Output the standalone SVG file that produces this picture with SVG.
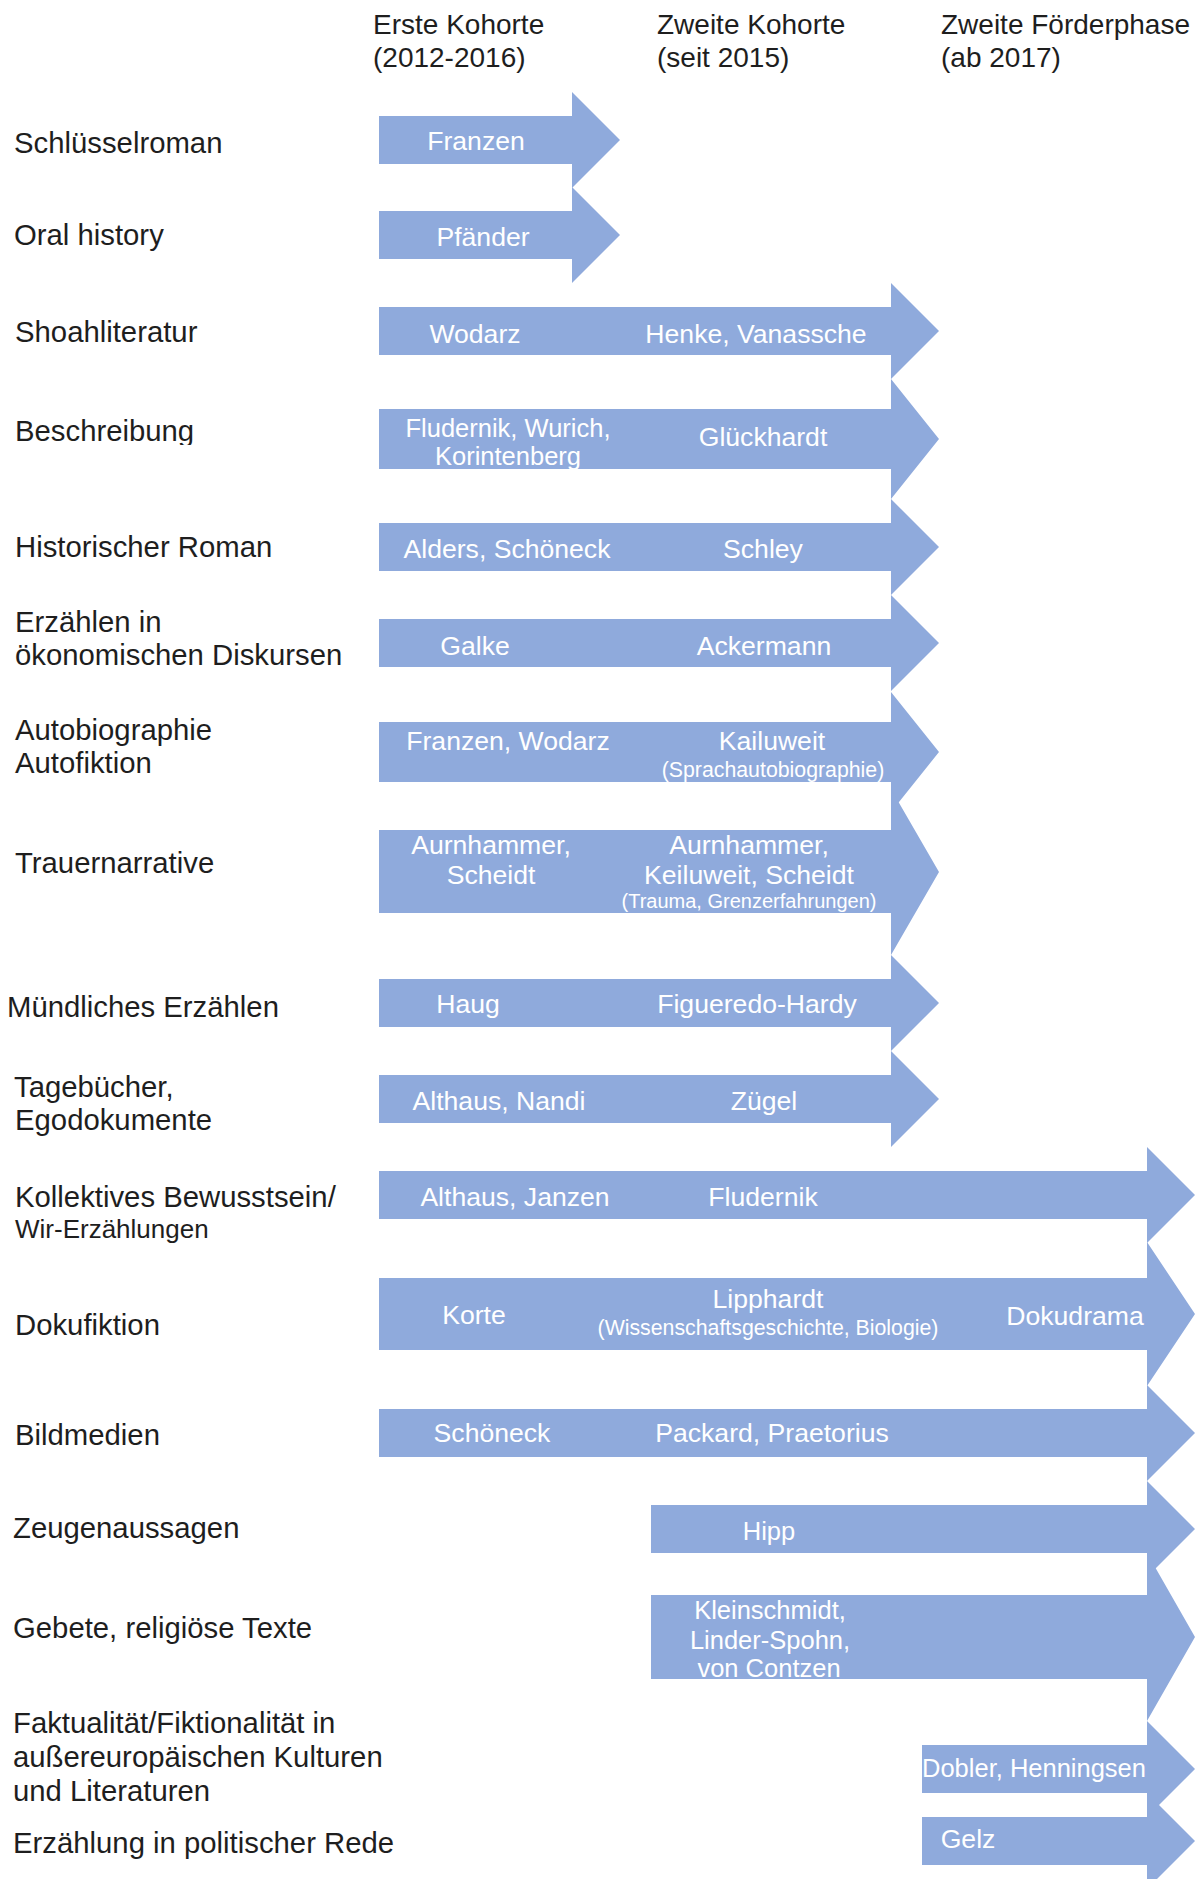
<svg xmlns="http://www.w3.org/2000/svg" width="1199" height="1879" viewBox="0 0 1199 1879">
<style>
  .arrow { fill: #8FAADC; }
  .hdr { font-family: "Liberation Sans", Arial, sans-serif; font-size: 28px; fill: #1e1e1e; }
  .lbl { font-family: "Liberation Sans", Arial, sans-serif; font-size: 29.3px; fill: #1e1e1e; }
  .lbl2 { font-family: "Liberation Sans", Arial, sans-serif; font-size: 26px; fill: #1e1e1e; }
  .t { font-family: "Liberation Sans", Arial, sans-serif; font-size: 26.6px; fill: #ffffff; text-anchor: middle; }
  .tn { font-family: "Liberation Sans", Arial, sans-serif; font-size: 25.5px; fill: #ffffff; text-anchor: middle; }
  .s { font-family: "Liberation Sans", Arial, sans-serif; font-size: 21.3px; fill: #ffffff; text-anchor: middle; }
  .s2 { font-family: "Liberation Sans", Arial, sans-serif; font-size: 20px; fill: #ffffff; text-anchor: middle; }
</style>
<defs>
  <clipPath id="clipBeschr"><rect x="0" y="380" width="370" height="65"/></clipPath>
</defs>
<rect x="0" y="0" width="1199" height="1879" fill="#ffffff"/>

<g id="header">
  <text class="hdr" x="373" y="34">Erste Kohorte</text>
  <text class="hdr" x="373" y="67">(2012-2016)</text>
  <text class="hdr" x="657" y="34">Zweite Kohorte</text>
  <text class="hdr" x="657" y="67">(seit 2015)</text>
  <text class="hdr" x="941" y="34">Zweite Förderphase</text>
  <text class="hdr" x="941" y="67">(ab 2017)</text>
</g>

<g id="row-schluesselroman">
  <text class="lbl" x="14" y="153">Schlüsselroman</text>
  <polygon class="arrow" points="379,116 572,116 572,92 620,140 572,188 572,164 379,164"/>
  <text class="t" x="476" y="150">Franzen</text>
</g>

<g id="row-oral-history">
  <text class="lbl" x="14" y="245">Oral history</text>
  <polygon class="arrow" points="379,211 572,211 572,187 620,235 572,283 572,259 379,259"/>
  <text class="t" x="483" y="246">Pfänder</text>
</g>

<g id="row-shoahliteratur">
  <text class="lbl" x="15" y="342">Shoahliteratur</text>
  <polygon class="arrow" points="379,307 891,307 891,283 939,331 891,379 891,355 379,355"/>
  <text class="t" x="475" y="343">Wodarz</text>
  <text class="t" x="756" y="343">Henke, Vanassche</text>
</g>

<g id="row-beschreibung">
  <text class="lbl" x="15" y="441" clip-path="url(#clipBeschr)">Beschreibung</text>
  <polygon class="arrow" points="379,409 891,409 891,379 939,439 891,499 891,469 379,469"/>
  <text class="tn" x="508" y="437">Fludernik, Wurich,</text>
  <text class="tn" x="508" y="465">Korintenberg</text>
  <text class="t" x="763" y="446">Glückhardt</text>
</g>

<g id="row-historischer-roman">
  <text class="lbl" x="15" y="557">Historischer Roman</text>
  <polygon class="arrow" points="379,523 891,523 891,499 939,547 891,595 891,571 379,571"/>
  <text class="t" x="507" y="558">Alders, Schöneck</text>
  <text class="t" x="763" y="558">Schley</text>
</g>

<g id="row-oekonomisch">
  <text class="lbl" x="15" y="632">Erzählen in</text>
  <text class="lbl" x="15" y="665">ökonomischen Diskursen</text>
  <polygon class="arrow" points="379,619 891,619 891,595 939,643 891,691 891,667 379,667"/>
  <text class="t" x="475" y="655">Galke</text>
  <text class="t" x="764" y="655">Ackermann</text>
</g>

<g id="row-autobiographie">
  <text class="lbl" x="15" y="740">Autobiographie</text>
  <text class="lbl" x="15" y="773">Autofiktion</text>
  <polygon class="arrow" points="379,722 891,722 891,692 939,752 891,812 891,782 379,782"/>
  <text class="t" x="508" y="750">Franzen, Wodarz</text>
  <text class="t" x="772" y="750">Kailuweit</text>
  <text class="s" x="773" y="777">(Sprachautobiographie)</text>
</g>

<g id="row-trauernarrative">
  <text class="lbl" x="15" y="873">Trauernarrative</text>
  <polygon class="arrow" points="379,830 891,830 891,789 939,872 891,955 891,913 379,913"/>
  <text class="t" x="491" y="854">Aurnhammer,</text>
  <text class="t" x="491" y="884">Scheidt</text>
  <text class="t" x="749" y="854">Aurnhammer,</text>
  <text class="t" x="749" y="884">Keiluweit, Scheidt</text>
  <text class="s2" x="749" y="908">(Trauma, Grenzerfahrungen)</text>
</g>

<g id="row-muendlich">
  <text class="lbl" x="7" y="1017">Mündliches Erzählen</text>
  <polygon class="arrow" points="379,979 891,979 891,955 939,1003 891,1051 891,1027 379,1027"/>
  <text class="t" x="468" y="1013">Haug</text>
  <text class="t" x="757" y="1013">Figueredo-Hardy</text>
</g>

<g id="row-tagebuecher">
  <text class="lbl" x="14" y="1097">Tagebücher,</text>
  <text class="lbl" x="15" y="1130">Egodokumente</text>
  <polygon class="arrow" points="379,1075 891,1075 891,1051 939,1099 891,1147 891,1123 379,1123"/>
  <text class="t" x="499" y="1110">Althaus, Nandi</text>
  <text class="t" x="764" y="1110">Zügel</text>
</g>

<g id="row-kollektiv">
  <text class="lbl" x="15" y="1207">Kollektives Bewusstsein/</text>
  <text class="lbl2" x="15" y="1238">Wir-Erzählungen</text>
  <polygon class="arrow" points="379,1171 1147,1171 1147,1147 1195,1195 1147,1243 1147,1219 379,1219"/>
  <text class="t" x="515" y="1206">Althaus, Janzen</text>
  <text class="t" x="763" y="1206">Fludernik</text>
</g>

<g id="row-dokufiktion">
  <text class="lbl" x="15" y="1335">Dokufiktion</text>
  <polygon class="arrow" points="379,1278 1147,1278 1147,1242 1195,1314 1147,1386 1147,1350 379,1350"/>
  <text class="t" x="474" y="1324">Korte</text>
  <text class="t" x="768" y="1308">Lipphardt</text>
  <text class="s" x="768" y="1335">(Wissenschaftsgeschichte, Biologie)</text>
  <text class="t" x="1075" y="1325">Dokudrama</text>
</g>

<g id="row-bildmedien">
  <text class="lbl" x="15" y="1445">Bildmedien</text>
  <polygon class="arrow" points="379,1409 1147,1409 1147,1385 1195,1433 1147,1481 1147,1457 379,1457"/>
  <text class="t" x="492" y="1442">Schöneck</text>
  <text class="t" x="772" y="1442">Packard, Praetorius</text>
</g>

<g id="row-zeugenaussagen">
  <text class="lbl" x="13" y="1538">Zeugenaussagen</text>
  <polygon class="arrow" points="651,1505 1147,1505 1147,1481 1195,1529 1147,1577 1147,1553 651,1553"/>
  <text class="tn" x="769" y="1540">Hipp</text>
</g>

<g id="row-gebete">
  <text class="lbl" x="13" y="1638">Gebete, religiöse Texte</text>
  <polygon class="arrow" points="651,1595 1147,1595 1147,1553 1195,1637 1147,1721 1147,1679 651,1679"/>
  <text class="tn" x="770" y="1619">Kleinschmidt,</text>
  <text class="tn" x="770" y="1649">Linder-Spohn,</text>
  <text class="tn" x="769" y="1677">von Contzen</text>
</g>

<g id="row-aussereuropaeisch">
  <text class="lbl" x="13" y="1733">Faktualität/Fiktionalität in</text>
  <text class="lbl" x="13" y="1767">außereuropäischen Kulturen</text>
  <text class="lbl" x="13" y="1801">und Literaturen</text>
  <polygon class="arrow" points="922,1745 1147,1745 1147,1721 1195,1769 1147,1817 1147,1793 922,1793"/>
  <text class="tn" x="1034" y="1777">Dobler, Henningsen</text>
</g>

<g id="row-politische-rede">
  <text class="lbl" x="13" y="1853">Erzählung in politischer Rede</text>
  <polygon class="arrow" points="922,1817 1147,1817 1147,1793 1195,1841 1147,1889 1147,1865 922,1865"/>
  <text class="t" x="968" y="1848">Gelz</text>
</g>

<g id="connectors"></g>
</svg>
